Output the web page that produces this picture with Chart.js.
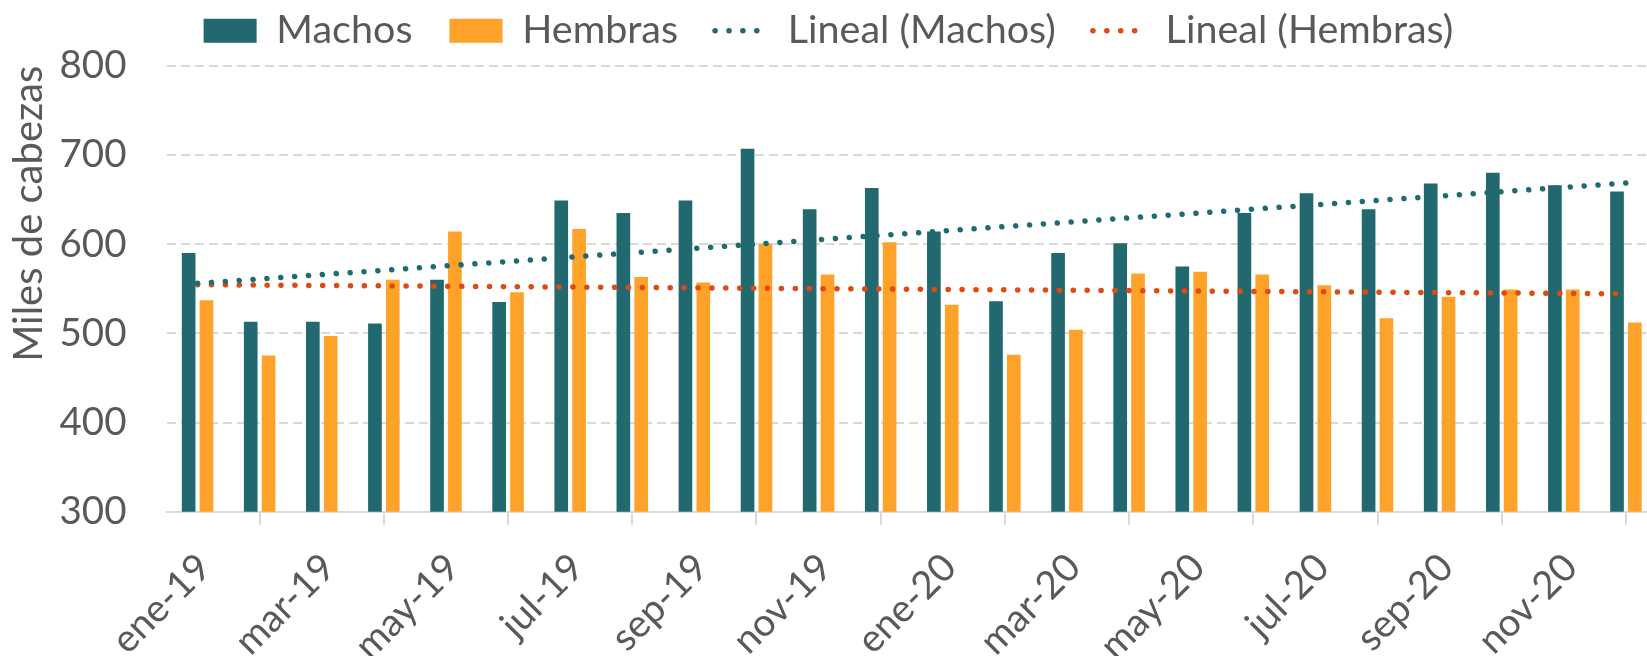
<!DOCTYPE html>
<html>
<head>
<meta charset="utf-8">
<script src="https://cdn.jsdelivr.net/npm/chart.js@4.4.0/dist/chart.umd.min.js"></script>
<style>
html, body { margin: 0; padding: 0; overflow: hidden; background: #fff; }
#wrap { width: 1657px; height: 656px; position: relative; }
</style>
</head>
<body>
<div id="wrap"><canvas id="myChart"></canvas></div>
<script>
var meses = ['ene-19', 'feb-19', 'mar-19', 'abr-19', 'may-19', 'jun-19', 'jul-19', 'ago-19', 'sep-19', 'oct-19', 'nov-19', 'dic-19',
             'ene-20', 'feb-20', 'mar-20', 'abr-20', 'may-20', 'jun-20', 'jul-20', 'ago-20', 'sep-20', 'oct-20', 'nov-20', 'dic-20'];
var machos = [590, 513, 513, 511, 560, 535, 649, 635, 649, 707, 639, 663, 614, 536, 590, 601, 575, 635, 657, 639, 668, 680, 666, 659];
var hembras = [537, 475, 497, 560, 614, 546, 617, 563, 557, 600, 566, 602, 532, 476, 504, 567, 569, 566, 554, 517, 541, 549, 549, 512];
// tendencias lineales: valor al inicio y al final
var tendMachos = [556, 668.5];
var tendHembras = [554.5, 544.3];

var gris = '#595959';
var fuente = 'Lato, "Noto Sans", sans-serif';
var punteado = [0.1, 13.8];

var ctx = document.getElementById("myChart").getContext("2d");
var myChart = new Chart(ctx, {
    type: 'bar',
    data: {
        labels: meses,
        datasets: [{
            label: 'Machos',
            data: machos,
            backgroundColor: '#21686F',
            barPercentage: 0.765,
            categoryPercentage: 0.575,
            order: 2
        }, {
            label: 'Hembras',
            data: hembras,
            backgroundColor: '#FFA229',
            barPercentage: 0.765,
            categoryPercentage: 0.575,
            order: 2
        }, {
            type: 'line',
            label: 'Lineal (Machos)',
            data: [{x: meses[0], y: tendMachos[0]}, {x: meses[meses.length - 1], y: tendMachos[1]}],
            borderColor: '#1F6B70',
            backgroundColor: '#1F6B70',
            borderWidth: 5.5,
            borderDash: punteado,
            borderCapStyle: 'round',
            pointRadius: 0,
            tension: 0,
            order: 1
        }, {
            type: 'line',
            label: 'Lineal (Hembras)',
            data: [{x: meses[0], y: tendHembras[0]}, {x: meses[meses.length - 1], y: tendHembras[1]}],
            borderColor: '#DF4A12',
            backgroundColor: '#DF4A12',
            borderWidth: 5.5,
            borderDash: punteado,
            borderCapStyle: 'round',
            pointRadius: 0,
            tension: 0,
            order: 1
        }]
    },
    options: {
        responsive: true,
        maintainAspectRatio: false,
        animation: false,
        layout: { padding: { top: -26, left: 0, right: 0, bottom: 0 } },
        plugins: {
            tooltip: { enabled: false },
            // espacio vacio entre la leyenda y el area del grafico
            subtitle: {
                display: true,
                text: '',
                weight: 0,
                font: { size: 5.2, lineHeight: 1 },
                padding: 0
            },
            legend: {
                position: 'top',
                labels: {
                    color: gris,
                    font: { family: fuente, size: 39.5 },
                    usePointStyle: true,
                    pointStyleWidth: 53,
                    boxHeight: 24,
                    padding: 37,
                    sort: function (a, b) { return a.datasetIndex - b.datasetIndex; },
                    generateLabels: function (chart) {
                        var items = Chart.defaults.plugins.legend.labels.generateLabels(chart);
                        items.forEach(function (it) {
                            var ds = chart.data.datasets[it.datasetIndex];
                            if (ds.type === 'line') {
                                it.pointStyle = 'line';
                                it.strokeStyle = ds.borderColor;
                                it.lineWidth = ds.borderWidth;
                                it.lineDash = ds.borderDash;
                                it.lineCap = 'round';
                            } else {
                                it.pointStyle = 'rect';
                                it.lineWidth = 0;
                            }
                        });
                        return items;
                    }
                }
            }
        },
        scales: {
            x: {
                grid: {
                    display: true,
                    drawOnChartArea: false,
                    drawTicks: true,
                    tickLength: 13,
                    color: '#D9D9D9',
                    lineWidth: 2
                },
                border: { display: true, color: '#D9D9D9', width: 2 },
                ticks: {
                    color: gris,
                    font: { family: fuente, size: 38.5 },
                    autoSkip: false,
                    minRotation: 45,
                    maxRotation: 45,
                    padding: 20,
                    labelOffset: 7,
                    callback: function (value, index) {
                        return index % 2 === 0 ? meses[index] : null;
                    }
                },
                afterFit: function (scale) {
                    scale.height = 144.3;
                    scale.paddingRight = 0;
                }
            },
            y: {
                min: 300,
                max: 800,
                grid: {
                    color: '#D9D9D9',
                    lineWidth: 2,
                    drawTicks: false
                },
                border: { display: false, dash: [9, 5] },
                ticks: {
                    stepSize: 100,
                    color: gris,
                    font: { family: fuente, size: 38.5 },
                    padding: 40
                },
                title: {
                    display: true,
                    text: 'Miles de cabezas',
                    align: 'end',
                    color: gris,
                    font: { family: fuente, size: 40 },
                    padding: { top: 5, bottom: 0 }
                },
                afterFit: function (scale) {
                    scale.width = 166.5;
                    scale.paddingTop = 65.7;
                }
            }
        }
    }
});
</script>
</body>
</html>
